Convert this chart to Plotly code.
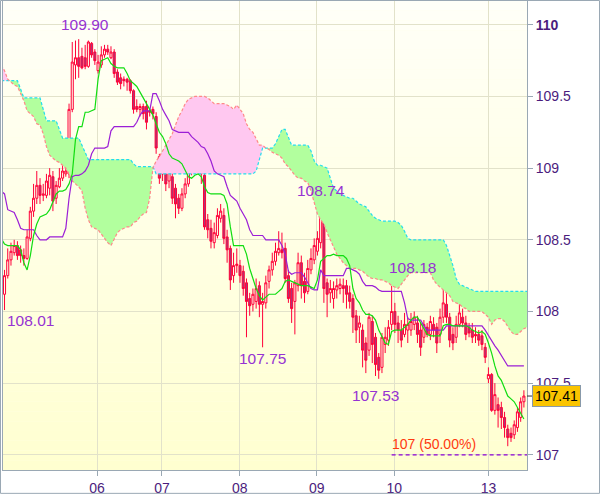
import plotly.graph_objects as go

# ---------------- data ----------------
OPEN = [
    108.12, 108.25, 108.36, 108.41, 108.46, 108.43, 108.39, 108.37, 108.51, 108.70,
    108.79, 108.88, 108.81, 108.81, 108.86, 108.94, 108.79, 108.87, 108.93, 108.96,
    108.96, 109.41, 109.72, 109.77, 109.78, 109.77, 109.71, 109.87, 109.81, 109.68,
    109.72, 109.79, 109.83, 109.77, 109.81, 109.67, 109.63, 109.62, 109.62, 109.61,
    109.54, 109.43, 109.41, 109.43, 109.43, 109.40, 109.41, 109.36, 109.08, 108.96,
    109.05, 108.91, 108.94, 108.86, 108.79, 108.72, 108.82, 108.89, 108.98, 109.03,
    109.09, 109.11, 108.95, 108.64, 108.58, 108.48, 108.53, 108.65, 108.67, 108.52,
    108.44, 108.25, 108.32, 108.32, 108.28, 108.20, 108.09, 108.05, 108.07, 108.18,
    108.05, 108.06, 108.21, 108.29, 108.35, 108.41, 108.43, 108.44, 108.25, 108.16,
    108.07, 108.18, 108.34, 108.21, 108.14, 108.29, 108.36, 108.42, 108.48, 108.70,
    108.20, 108.13, 108.09, 108.15, 108.16, 108.18, 108.18, 108.13, 108.09, 107.97,
    107.89, 107.87, 107.78, 107.73, 107.93, 107.82, 107.68, 107.61, 107.77, 107.80,
    107.91, 108.00, 107.92, 107.87, 107.84, 107.87, 107.87, 107.91, 107.92, 107.87,
    107.82, 107.89, 107.84, 107.91, 107.89, 107.84, 107.96, 108.05, 107.96, 107.84,
    107.82, 107.91, 107.96, 107.92, 107.89, 107.87, 107.84, 107.84, 107.83, 107.75,
    107.53, 107.56, 107.31, 107.35, 107.33, 107.26, 107.18, 107.15, 107.14, 107.19,
    107.26, 107.37,
]
HIGH = [
    108.29, 108.44, 108.48, 108.50, 108.49, 108.46, 108.44, 108.57, 108.73, 108.89,
    108.98, 108.93, 108.89, 108.96, 109.00, 108.98, 108.91, 109.00, 109.03, 109.07,
    109.45, 109.88, 109.89, 109.90, 109.84, 109.86, 109.89, 109.88, 109.83, 109.79,
    109.85, 109.86, 109.86, 109.85, 109.83, 109.69, 109.66, 109.64, 109.63, 109.62,
    109.55, 109.48, 109.45, 109.45, 109.47, 109.41, 109.43, 109.39, 109.10, 109.10,
    109.08, 109.01, 108.98, 108.89, 108.82, 108.86, 108.93, 109.01, 109.08, 109.17,
    109.19, 109.14, 108.98, 108.68, 108.64, 108.62, 108.72, 108.75, 108.72, 108.57,
    108.46, 108.41, 108.44, 108.36, 108.32, 108.23, 108.13, 108.16, 108.23, 108.21,
    108.13, 108.25, 108.32, 108.41, 108.48, 108.56, 108.55, 108.48, 108.29, 108.20,
    108.22, 108.41, 108.39, 108.27, 108.36, 108.44, 108.51, 108.56, 108.74, 108.72,
    108.23, 108.22, 108.21, 108.23, 108.23, 108.23, 108.22, 108.18, 108.12, 108.01,
    107.97, 107.91, 107.82, 107.99, 107.97, 107.85, 107.71, 107.85, 107.89, 107.94,
    108.18, 108.06, 107.97, 107.94, 107.99, 107.96, 107.99, 108.00, 107.97, 107.92,
    107.94, 107.92, 107.97, 107.96, 107.92, 108.02, 108.15, 108.13, 107.99, 107.89,
    107.97, 108.11, 108.02, 107.97, 107.92, 107.92, 107.89, 107.87, 107.87, 107.78,
    107.61, 107.57, 107.50, 107.40, 107.37, 107.30, 107.21, 107.19, 107.24, 107.33,
    107.40, 107.45,
]
LOW = [
    108.01, 108.23, 108.32, 108.39, 108.36, 108.34, 108.32, 108.36, 108.49, 108.66,
    108.75, 108.75, 108.77, 108.79, 108.81, 108.70, 108.75, 108.86, 108.91, 108.94,
    108.93, 109.39, 109.62, 109.63, 109.69, 109.69, 109.70, 109.77, 109.72, 109.66,
    109.70, 109.77, 109.79, 109.76, 109.63, 109.58, 109.55, 109.57, 109.54, 109.52,
    109.38, 109.39, 109.36, 109.34, 109.27, 109.36, 109.34, 109.10, 108.89, 108.91,
    108.84, 108.86, 108.75, 108.65, 108.68, 108.70, 108.79, 108.87, 108.95, 109.00,
    109.07, 108.89, 108.57, 108.51, 108.44, 108.44, 108.51, 108.62, 108.47, 108.34,
    108.15, 108.20, 108.27, 108.20, 108.11, 107.82, 107.97, 108.00, 108.02, 107.96,
    107.75, 108.02, 108.16, 108.25, 108.32, 108.39, 108.37, 108.20, 108.06, 107.92,
    107.84, 108.14, 108.09, 108.06, 108.12, 108.26, 108.33, 108.39, 108.44, 108.06,
    107.96, 108.06, 108.02, 108.09, 108.12, 108.06, 108.02, 108.02, 107.85, 107.78,
    107.78, 107.61, 107.57, 107.69, 107.64, 107.55, 107.53, 107.57, 107.71, 107.76,
    107.87, 107.85, 107.78, 107.75, 107.82, 107.78, 107.83, 107.87, 107.78, 107.69,
    107.78, 107.82, 107.80, 107.82, 107.71, 107.78, 107.92, 107.92, 107.75, 107.73,
    107.78, 107.89, 107.89, 107.80, 107.82, 107.78, 107.78, 107.76, 107.73, 107.64,
    107.50, 107.30, 107.28, 107.19, 107.18, 107.12, 107.06, 107.09, 107.11, 107.16,
    107.23, 107.33,
]
CLOSE = [
    108.25, 108.36, 108.42, 108.46, 108.39, 108.39, 108.37, 108.52, 108.70, 108.79,
    108.88, 108.81, 108.82, 108.91, 108.95, 108.77, 108.88, 108.93, 108.98, 108.98,
    109.41, 109.74, 109.77, 109.71, 109.70, 109.71, 109.88, 109.79, 109.75, 109.74,
    109.79, 109.83, 109.81, 109.81, 109.66, 109.60, 109.59, 109.61, 109.60, 109.54,
    109.41, 109.41, 109.43, 109.38, 109.32, 109.39, 109.38, 109.14, 108.93, 109.07,
    108.89, 108.98, 108.79, 108.75, 108.72, 108.82, 108.89, 108.98, 109.05, 109.14,
    109.15, 108.96, 108.59, 108.57, 108.49, 108.55, 108.67, 108.70, 108.51, 108.43,
    108.22, 108.32, 108.33, 108.25, 108.16, 108.07, 108.04, 108.12, 108.16, 108.05,
    108.07, 108.20, 108.29, 108.35, 108.42, 108.44, 108.41, 108.23, 108.09, 108.02,
    108.20, 108.34, 108.18, 108.13, 108.30, 108.37, 108.46, 108.51, 108.71, 108.16,
    108.12, 108.16, 108.16, 108.18, 108.19, 108.16, 108.12, 108.07, 107.96, 107.87,
    107.92, 107.73, 107.66, 107.96, 107.77, 107.63, 107.59, 107.82, 107.82, 107.89,
    108.00, 107.91, 107.87, 107.80, 107.91, 107.91, 107.93, 107.96, 107.84, 107.75,
    107.91, 107.84, 107.93, 107.87, 107.78, 107.96, 108.06, 107.96, 107.80, 107.78,
    107.91, 107.99, 107.92, 107.84, 107.85, 107.82, 107.83, 107.80, 107.77, 107.68,
    107.56, 107.31, 107.42, 107.31, 107.26, 107.19, 107.12, 107.12, 107.21, 107.30,
    107.37, 107.41,
]

# indicator lines start one bar before the first candle
LINE_START_BAR = -1
TENKAN = [
    108.51,
    108.47, 108.46, 108.46, 108.46, 108.46, 108.43, 108.34, 108.29, 108.39, 108.53,
    108.61, 108.66, 108.67, 108.68, 108.71, 108.76, 108.82, 108.84, 108.84, 108.85,
    108.89, 108.96, 109.20, 109.29, 109.29, 109.39, 109.39, 109.40, 109.41, 109.62,
    109.75, 109.76, 109.77, 109.73, 109.71, 109.70, 109.70, 109.70, 109.66, 109.61,
    109.59, 109.57, 109.53, 109.49, 109.45, 109.41, 109.37, 109.31, 109.25, 109.22,
    109.17, 109.10, 109.07, 109.06, 109.05, 109.03, 108.98, 108.94, 108.93, 108.95,
    108.96, 108.94, 108.87, 108.83, 108.82, 108.82, 108.82, 108.82, 108.81, 108.75,
    108.59, 108.46, 108.46, 108.46, 108.46, 108.40, 108.30, 108.23, 108.16, 108.11,
    108.08, 108.10, 108.12, 108.12, 108.12, 108.14, 108.16, 108.21, 108.22, 108.21,
    108.20, 108.19, 108.18, 108.18, 108.18, 108.17, 108.16, 108.22, 108.35, 108.37,
    108.39, 108.39, 108.40, 108.39, 108.39, 108.39, 108.37, 108.32, 108.16, 108.09,
    108.06, 108.01, 107.98, 107.98, 107.97, 107.94, 107.87, 107.82, 107.78, 107.77,
    107.86, 107.87, 107.87, 107.87, 107.89, 107.91, 107.94, 107.96, 107.96, 107.92,
    107.87, 107.84, 107.83, 107.83, 107.83, 107.83, 107.90, 107.91, 107.91, 107.90,
    107.90, 107.90, 107.90, 107.90, 107.89, 107.87, 107.86, 107.85, 107.86, 107.84,
    107.78, 107.71, 107.62, 107.55, 107.52, 107.47, 107.41, 107.39, 107.37, 107.33,
    107.29, 107.25,
]
KIJUN = [
    108.84,
    108.82, 108.71, 108.70, 108.69, 108.64, 108.58, 108.57, 108.57, 108.57, 108.57,
    108.53, 108.50, 108.50, 108.50, 108.52, 108.52, 108.52, 108.52, 108.52, 108.58,
    108.79, 108.94, 108.95, 108.95, 108.96, 108.98, 109.02, 109.10, 109.14, 109.14,
    109.14, 109.14, 109.15, 109.26, 109.29, 109.29, 109.29, 109.29, 109.29, 109.29,
    109.29, 109.32, 109.37, 109.40, 109.40, 109.40, 109.52, 109.52, 109.47, 109.41,
    109.37, 109.33, 109.27, 109.26, 109.25, 109.25, 109.25, 109.25, 109.22, 109.20,
    109.18, 109.15, 109.14, 109.10, 109.05, 108.98, 108.96, 108.95, 108.94, 108.87,
    108.81, 108.79, 108.77, 108.72, 108.68, 108.64, 108.57, 108.53, 108.53, 108.53,
    108.53, 108.50, 108.50, 108.50, 108.50, 108.50, 108.46, 108.40, 108.28, 108.26,
    108.27, 108.27, 108.27, 108.24, 108.20, 108.16, 108.15, 108.15, 108.29, 108.25,
    108.25, 108.25, 108.25, 108.25, 108.25, 108.25, 108.30, 108.30, 108.29, 108.28,
    108.26, 108.21, 108.18, 108.18, 108.18, 108.17, 108.15, 108.14, 108.14, 108.14,
    108.14, 108.14, 108.14, 108.14, 108.06, 107.95, 107.94, 107.94, 107.94, 107.94,
    107.90, 107.87, 107.87, 107.87, 107.87, 107.87, 107.87, 107.90, 107.90, 107.90,
    107.90, 107.90, 107.90, 107.90, 107.90, 107.90, 107.90, 107.90, 107.90, 107.87,
    107.83, 107.80, 107.76, 107.73, 107.69, 107.65, 107.62, 107.62, 107.62, 107.62,
    107.62, 107.62,
]
SPAN_A = [
    109.61,
    109.61, 109.61, 109.61, 109.61, 109.61, 109.55, 109.49, 109.49, 109.49, 109.49,
    109.49, 109.49, 109.41, 109.33, 109.33, 109.33, 109.33, 109.27, 109.21, 109.21,
    109.21, 109.21, 109.21, 109.21, 109.16, 109.11, 109.06, 109.06, 109.06, 109.06,
    109.06, 109.06, 109.06, 109.06, 109.06, 109.06, 109.06, 109.06, 109.06, 109.06,
    109.03, 109.01, 109.01, 109.01, 109.01, 109.01, 109.01, 108.96, 108.96, 108.96,
    108.96, 108.96, 108.96, 108.96, 108.96, 108.96, 108.96, 108.96, 108.96, 108.96,
    108.96, 108.96, 108.96, 108.96, 108.96, 108.96, 108.96, 108.96, 108.96, 108.96,
    108.96, 108.96, 108.96, 108.96, 108.96, 108.96, 108.96, 108.96, 108.98, 109.07,
    109.14, 109.14, 109.14, 109.14, 109.17, 109.22, 109.27, 109.27, 109.22, 109.16,
    109.16, 109.16, 109.16, 109.16, 109.16, 109.12, 109.05, 109.02, 109.02, 109.01,
    109.00, 108.93, 108.86, 108.84, 108.82, 108.81, 108.80, 108.79, 108.79, 108.77,
    108.75, 108.74, 108.73, 108.70, 108.67, 108.65, 108.64, 108.63, 108.63, 108.63,
    108.63, 108.63, 108.62, 108.60, 108.56, 108.51, 108.50, 108.50, 108.50, 108.50,
    108.50, 108.50, 108.50, 108.50, 108.50, 108.50, 108.50, 108.46, 108.39, 108.32,
    108.23, 108.19, 108.18, 108.17, 108.16, 108.15, 108.14, 108.14, 108.14, 108.14,
    108.14, 108.14, 108.14, 108.14, 108.14, 108.14, 108.14, 108.14, 108.14, 108.14,
    108.14, 108.14, 108.14,
]
SPAN_B = [
    109.72,
    109.68, 109.62, 109.60, 109.58, 109.57, 109.52, 109.47, 109.40, 109.38, 109.36,
    109.31, 109.30, 109.24, 109.15, 109.09, 109.07, 109.05, 109.04, 109.02, 109.00,
    108.96, 108.91, 108.89, 108.87, 108.84, 108.72, 108.64, 108.59, 108.58, 108.57,
    108.54, 108.51, 108.48, 108.46, 108.50, 108.55, 108.57, 108.58, 108.59, 108.59,
    108.62, 108.63, 108.66, 108.68, 108.69, 108.79, 109.00, 109.05, 109.08, 109.12,
    109.16, 109.20, 109.24, 109.30, 109.36, 109.40, 109.45, 109.48, 109.49, 109.50,
    109.50, 109.50, 109.50, 109.49, 109.47, 109.45, 109.45, 109.45, 109.45, 109.44,
    109.43, 109.41, 109.44, 109.41, 109.38, 109.31, 109.27, 109.25, 109.20, 109.16,
    109.16, 109.14, 109.13, 109.11, 109.10, 109.09, 109.07, 109.03, 109.01, 108.98,
    108.95, 108.93, 108.93, 108.91, 108.90, 108.84, 108.75, 108.68, 108.64, 108.61,
    108.55, 108.50, 108.44, 108.40, 108.37, 108.34, 108.32, 108.30, 108.30, 108.30,
    108.29, 108.28, 108.26, 108.24, 108.23, 108.23, 108.22, 108.22, 108.21, 108.20,
    108.18, 108.17, 108.16, 108.19, 108.22, 108.25, 108.27, 108.27, 108.27, 108.27,
    108.27, 108.27, 108.27, 108.22, 108.19, 108.17, 108.15, 108.13, 108.11, 108.07,
    108.06, 108.05, 108.03, 108.02, 108.00, 108.00, 108.00, 108.00, 108.00, 107.98,
    107.96, 107.91, 107.94, 107.95, 107.95, 107.93, 107.89, 107.86, 107.84, 107.84,
    107.86, 107.88, 107.89,
]

DAY_LABELS = ['06', '07', '08', '09', '10', '13']
DAY_TICK_BARS = [28.7, 48.8, 72.9, 96.8, 120.8, 150.0]
PRICE_TICKS = [107, 107.5, 108, 108.5, 109, 109.5, 110]
PRICE_TICK_TEXT = ['107', '107.5', '108', '108.5', '109', '109.5', '<b>110</b>']

EXTREME_BARS = [23, 0, 80, 98, 120, 116]
EXTREME_KIND = ['high', 'low', 'low', 'high', 'high', 'low']
EXTREME_SHIFT = [(6, 15), (26, -10), (0, -11), (0, 15), (21, 18), (-3, -17)]

FIB_LEVEL = 107.0
FIB_TEXT = '107 (50.00%)'
FIB_START_BAR = 120

# ---------------- geometry / style ----------------
W, H = 600, 497
ML, MR, MT, MB = 3, 73, 1, 24
PW, PH = W - ML - MR, H - MT - MB
X_RANGE = [-0.47, 161.96]
Y_RANGE = [106.894, 110.166]
FONT = 'Arial, Liberation Sans, sans-serif'
AXIS_GRAY = '#9AA8B4'
TICK_COLOR = '#4B1C7D'
LABEL_COLOR = '#9632D2'

bars = list(range(len(CLOSE)))
line_x = list(range(LINE_START_BAR, LINE_START_BAR + len(TENKAN)))
cloud_x = list(range(LINE_START_BAR, LINE_START_BAR + len(SPAN_A)))
cloud_top = [max(a, b) for a, b in zip(SPAN_A, SPAN_B)]

fig = go.Figure()

# cloud fills: green where A above B, pink where B above A
fig.add_trace(go.Scatter(x=cloud_x, y=SPAN_B, mode='lines', line=dict(width=0),
                         hoverinfo='skip', showlegend=False))
fig.add_trace(go.Scatter(x=cloud_x, y=cloud_top, mode='lines', line=dict(width=0),
                         fill='tonexty', fillcolor='rgb(178,255,158)',
                         hoverinfo='skip', showlegend=False))
fig.add_trace(go.Scatter(x=cloud_x, y=SPAN_A, mode='lines', line=dict(width=0),
                         hoverinfo='skip', showlegend=False))
fig.add_trace(go.Scatter(x=cloud_x, y=cloud_top, mode='lines', line=dict(width=0),
                         fill='tonexty', fillcolor='rgb(255,200,240)',
                         hoverinfo='skip', showlegend=False))
# cloud borders
fig.add_trace(go.Scatter(x=cloud_x, y=SPAN_A, mode='lines',
                         line=dict(color='#22DDEE', width=1.2, dash='3px,2px'),
                         hoverinfo='skip', showlegend=False))
fig.add_trace(go.Scatter(x=cloud_x, y=SPAN_B, mode='lines',
                         line=dict(color='#FF8888', width=1.2, dash='3px,2px'),
                         hoverinfo='skip', showlegend=False))

# candles
fig.add_trace(go.Candlestick(
    x=bars, open=OPEN, high=HIGH, low=LOW, close=CLOSE,
    increasing=dict(line=dict(color='#FF0038', width=1), fillcolor='rgba(255,255,235,1)'),
    decreasing=dict(line=dict(color='#FF0038', width=1), fillcolor='#A8387A'),
    whiskerwidth=0, hoverinfo='skip', showlegend=False))

# kijun / tenkan
fig.add_trace(go.Scatter(x=line_x, y=KIJUN, mode='lines',
                         line=dict(color='#9B1FD6', width=1.2),
                         hoverinfo='skip', showlegend=False))
fig.add_trace(go.Scatter(x=line_x, y=TENKAN, mode='lines',
                         line=dict(color='#11DD11', width=1.2),
                         hoverinfo='skip', showlegend=False))

shapes = []
# background vertical gradient (white-ish top to pale yellow bottom)
N = 48
top_c, bot_c = (255, 255, 248), (255, 255, 208)
for k in range(N):
    t = (k + 0.5) / N
    c = tuple(round(bot_c[j] + (top_c[j] - bot_c[j]) * t) for j in range(3))
    shapes.append(dict(type='rect', xref='paper', yref='paper', x0=0, x1=1,
                       y0=k / N, y1=(k + 1) / N, layer='below',
                       line=dict(width=0), fillcolor='rgb(%d,%d,%d)' % c))
# fibonacci level line
shapes.append(dict(type='line', xref='x', yref='y', x0=FIB_START_BAR, x1=X_RANGE[1],
                   y0=FIB_LEVEL, y1=FIB_LEVEL,
                   line=dict(color='#8A00D4', width=1.2, dash='4px,3px')))
# tick for current price
shapes.append(dict(type='line', xref='paper', yref='y', x0=1, x1=1 + 5 / PW,
                   y0=CLOSE[-1], y1=CLOSE[-1], line=dict(color='#333333', width=1)))
# outer frame
shapes.append(dict(type='rect', xref='paper', yref='paper',
                   x0=-(ML - 0.5) / PW, x1=1 + (MR - 0.5) / PW,
                   y0=-(MB - 0.5) / PH, y1=1 + (MT - 0.5) / PH,
                   line=dict(color=AXIS_GRAY, width=1), fillcolor='rgba(0,0,0,0)'))

annotations = []
for b, kind, (dx, dy) in zip(EXTREME_BARS, EXTREME_KIND, EXTREME_SHIFT):
    v = HIGH[b] if kind == 'high' else LOW[b]
    annotations.append(dict(x=b, y=v, xref='x', yref='y', text='%.2f' % v,
                            showarrow=False, xanchor='center', yanchor='middle',
                            xshift=dx, yshift=dy,
                            font=dict(family=FONT, size=15.5, color=LABEL_COLOR)))
annotations.append(dict(x=FIB_START_BAR, y=FIB_LEVEL, xref='x', yref='y', text=FIB_TEXT,
                        showarrow=False, xanchor='left', yanchor='bottom', xshift=-2, yshift=1,
                        font=dict(family=FONT, size=14, color='#FF3A10')))
annotations.append(dict(x=1 + 5 / PW, y=CLOSE[-1], xref='paper', yref='y',
                        text='%.2f' % CLOSE[-1], showarrow=False,
                        xanchor='left', yanchor='middle',
                        bgcolor='#FAC400', bordercolor='#8899AA', borderwidth=1, borderpad=2,
                        font=dict(family=FONT, size=14, color='#000000')))

fig.update_layout(
    width=W, height=H, autosize=False,
    margin=dict(l=ML, r=MR, t=MT, b=MB, pad=0),
    paper_bgcolor='white', plot_bgcolor='rgb(255,255,230)',
    boxgap=0.25, boxgroupgap=0.15,
    showlegend=False, shapes=shapes, annotations=annotations,
    xaxis=dict(range=X_RANGE, tickvals=DAY_TICK_BARS, ticktext=DAY_LABELS,
               showgrid=True, gridcolor='#E2E2CA', gridwidth=1, zeroline=False,
               ticks='outside', ticklen=5, tickcolor=AXIS_GRAY,
               showline=True, linecolor=AXIS_GRAY, linewidth=1, mirror=False,
               rangeslider=dict(visible=False),
               tickfont=dict(family=FONT, size=14, color=TICK_COLOR)),
    yaxis=dict(range=Y_RANGE, side='right', tickvals=PRICE_TICKS, ticktext=PRICE_TICK_TEXT,
               showgrid=True, gridcolor='#E2E2CA', gridwidth=1, zeroline=False,
               ticks='outside', ticklen=5, tickcolor=AXIS_GRAY,
               showline=True, linecolor=AXIS_GRAY, linewidth=1, mirror=True,
               tickfont=dict(family=FONT, size=14, color=TICK_COLOR)),
)

fig.write_html("out.html", config={'displayModeBar': False},
               post_script="document.body.style.margin='0';document.body.style.padding='0';")
